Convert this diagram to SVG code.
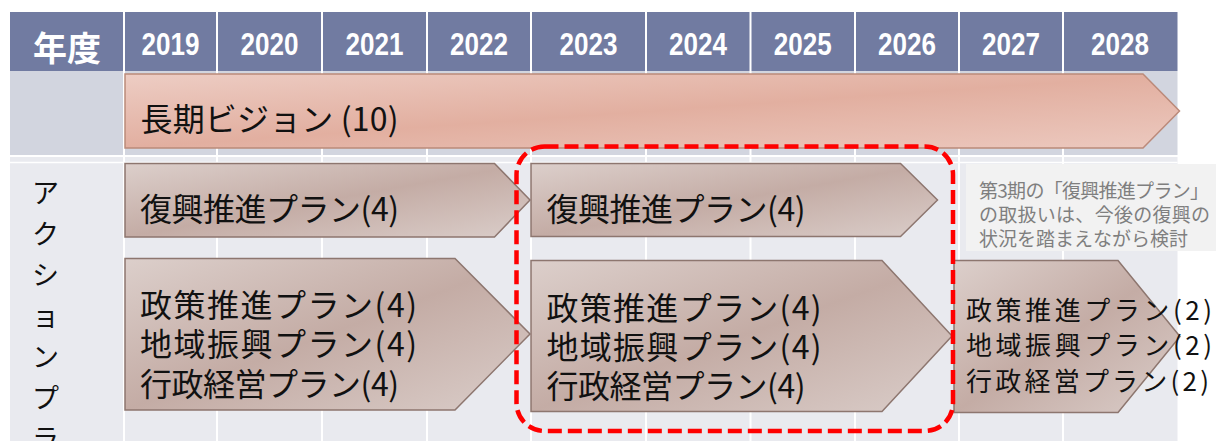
<svg xmlns="http://www.w3.org/2000/svg" width="1216" height="441" viewBox="0 0 1216 441">
<defs>
<linearGradient id="gBrown" x1="0" y1="0" x2="1" y2="1">
<stop offset="0" stop-color="#dccfcb"/>
<stop offset="0.5" stop-color="#c4aca5"/>
<stop offset="1" stop-color="#dacdc9"/>
</linearGradient>
<linearGradient id="gPink" x1="0" y1="0" x2="1" y2="1">
<stop offset="0" stop-color="#edcdc4"/>
<stop offset="0.5" stop-color="#e2afa0"/>
<stop offset="1" stop-color="#ecc9bf"/>
</linearGradient>
<style>
.hdr{font-family:"Liberation Sans",Arial,sans-serif;font-weight:bold;font-size:31px;fill:#ffffff}
.jp{font-family:"Noto Sans CJK JP","Noto Sans CJK SC",sans-serif}
.big{font-size:32px;fill:#111111}
.mid{font-size:26px;fill:#111111}
.note{font-size:19px;fill:#7f7f7f}
.arrow{fill:url(#gBrown);stroke:#8d766f;stroke-width:1.5}
.div{stroke:#ffffff;stroke-width:2}
</style>
</defs>
<rect x="0" y="0" width="1216" height="441" fill="#ffffff"/>
<g id="table">
<rect x="10" y="12" width="1167.5" height="59" fill="#717ba1"/>
<rect x="10" y="71" width="1167.5" height="84" fill="#d2d5df"/>
<rect x="10" y="157" width="1167.5" height="284" fill="#e9eaef"/>
<line x1="10" y1="162.5" x2="1177.5" y2="162.5" stroke="#ffffff" stroke-width="1.5"/>
<g class="div">
<line x1="124" y1="12" x2="124" y2="441"/>
<line x1="217" y1="12" x2="217" y2="441"/>
<line x1="322" y1="12" x2="322" y2="441"/>
<line x1="427" y1="12" x2="427" y2="441"/>
<line x1="531" y1="12" x2="531" y2="441"/>
<line x1="646" y1="12" x2="646" y2="441"/>
<line x1="750.5" y1="12" x2="750.5" y2="441"/>
<line x1="855" y1="12" x2="855" y2="441"/>
<line x1="959" y1="12" x2="959" y2="441"/>
<line x1="1063" y1="12" x2="1063" y2="441"/>
</g>
<text class="jp" x="67" y="61" text-anchor="middle" font-size="34" font-weight="bold" fill="#ffffff">年度</text>
<text class="hdr" x="141.5" y="55" textLength="58" lengthAdjust="spacingAndGlyphs">2019</text>
<text class="hdr" x="240.5" y="55" textLength="58" lengthAdjust="spacingAndGlyphs">2020</text>
<text class="hdr" x="345.5" y="55" textLength="58" lengthAdjust="spacingAndGlyphs">2021</text>
<text class="hdr" x="450" y="55" textLength="58" lengthAdjust="spacingAndGlyphs">2022</text>
<text class="hdr" x="559.5" y="55" textLength="58" lengthAdjust="spacingAndGlyphs">2023</text>
<text class="hdr" x="669" y="55" textLength="58" lengthAdjust="spacingAndGlyphs">2024</text>
<text class="hdr" x="773.7" y="55" textLength="58" lengthAdjust="spacingAndGlyphs">2025</text>
<text class="hdr" x="878" y="55" textLength="58" lengthAdjust="spacingAndGlyphs">2026</text>
<text class="hdr" x="982" y="55" textLength="58" lengthAdjust="spacingAndGlyphs">2027</text>
<text class="hdr" x="1091" y="55" textLength="58" lengthAdjust="spacingAndGlyphs">2028</text>
<text class="jp" font-size="27" fill="#111111" text-anchor="middle"><tspan x="45.5" y="203">ア</tspan><tspan x="45.5" y="244">ク</tspan><tspan x="45.5" y="285">シ</tspan><tspan x="45.5" y="326">ョ</tspan><tspan x="45.5" y="367">ン</tspan><tspan x="45.5" y="408">プ</tspan><tspan x="45.5" y="449">ラ</tspan></text>
</g>
<g id="node-longterm">
<polygon points="125,74 1143,74 1179.5,111 1143,148 125,148" fill="url(#gPink)" stroke="#bb8a7a" stroke-width="1.5"/>
<text class="jp big" x="140.5" y="131" textLength="258">長期ビジョン (10)</text>
</g>
<g id="node-fukko-1">
<polygon class="arrow" points="125,163.5 494.5,163.5 530,200 494.5,237 125,237"/>
<text class="jp big" x="140" y="221" textLength="259">復興推進プラン(4)</text>
</g>
<g id="node-plans-1">
<polygon class="arrow" points="125,258.5 455,258.5 530,334 455,410 125,410"/>
<text class="jp big"><tspan x="140" y="316.5" textLength="277">政策推進プラン(4)</tspan><tspan x="140" y="356" textLength="277">地域振興プラン(4)</tspan><tspan x="140" y="395.5" textLength="259">行政経営プラン(4)</tspan></text>
</g>
<g id="node-fukko-2">
<polygon class="arrow" points="531,163.5 900.5,163.5 937.5,200 900.5,236.5 531,236.5"/>
<text class="jp big" x="546.5" y="221" textLength="259">復興推進プラン(4)</text>
</g>
<g id="node-plans-2">
<polygon class="arrow" points="531,260.5 882,260.5 952,336 882,411.5 531,411.5"/>
<text class="jp big"><tspan x="546.5" y="319.5" textLength="275">政策推進プラン(4)</tspan><tspan x="546.5" y="359" textLength="275">地域振興プラン(4)</tspan><tspan x="546.5" y="398" textLength="259">行政経営プラン(4)</tspan></text>
</g>
<g id="node-plans-3">
<polygon class="arrow" points="954,260.5 1118,260.5 1180,336.5 1118,412.5 954,412.5"/>
<text class="jp mid"><tspan x="966" y="320" textLength="246">政策推進プラン(2)</tspan><tspan x="966" y="355" textLength="246">地域振興プラン(2)</tspan><tspan x="966" y="390.5" textLength="243">行政経営プラン(2)</tspan></text>
</g>
<g id="note">
<rect x="966" y="164" width="250" height="87" fill="#f2f2f2"/>
<text class="jp note"><tspan x="979" y="197.5" textLength="230">第3期の「復興推進プラン」</tspan><tspan x="979" y="221.5" textLength="231">の取扱いは、今後の復興の</tspan><tspan x="979" y="245.5">状況を踏まえながら検討</tspan></text>
</g>
<g id="connectors"/>
<g id="highlight">
<rect x="516.5" y="146.5" width="436.5" height="284.5" rx="28" ry="28" fill="none" stroke="#ff0000" stroke-width="4.5" stroke-dasharray="14 6"/>
</g>
</svg>
